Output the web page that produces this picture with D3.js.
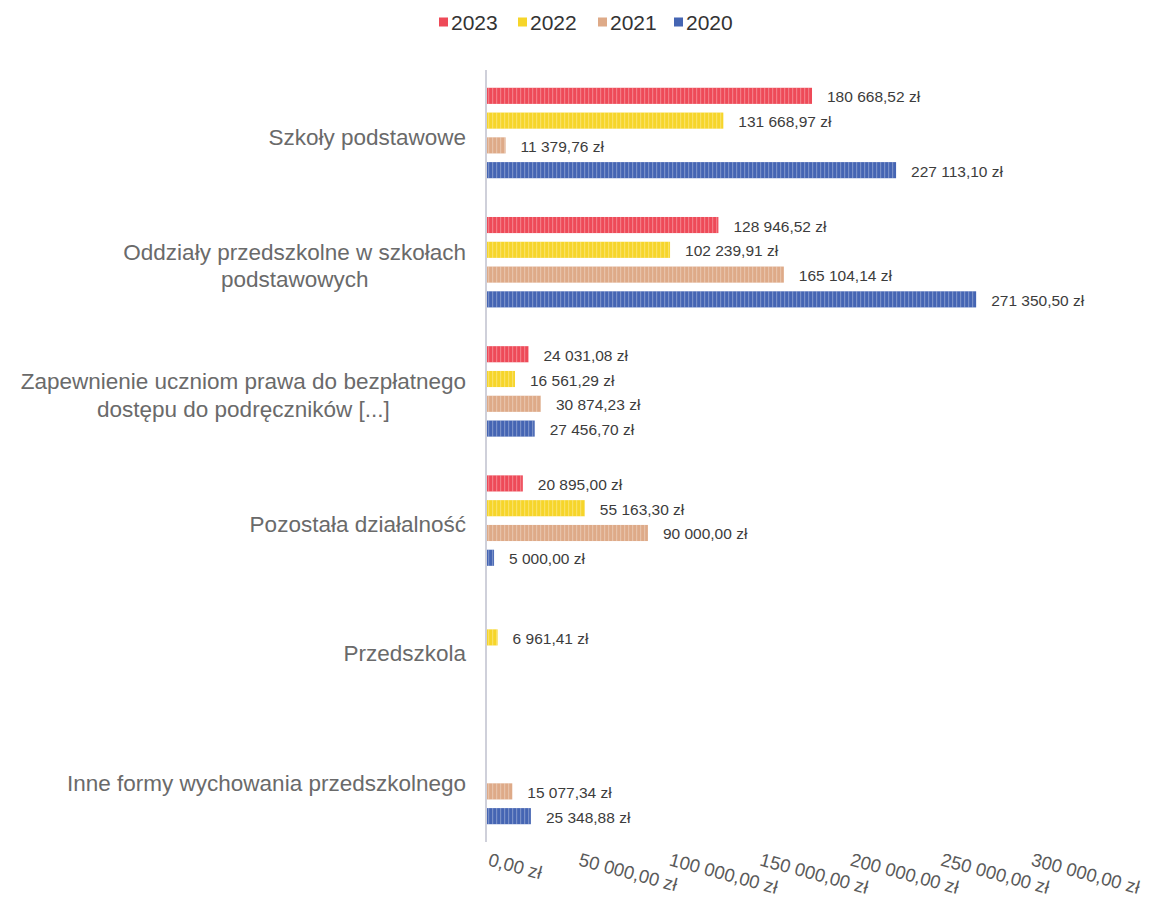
<!DOCTYPE html>
<html>
<head>
<meta charset="utf-8">
<script src="https://cdn.jsdelivr.net/npm/d3@7"></script>
<style>
  html, body { margin: 0; padding: 0; background: #ffffff; }
  svg { display: block; font-family: "Liberation Sans", Arial, sans-serif; }
</style>
</head>
<body>
<svg id="chart" width="1157" height="899"></svg>
<script>
// ---- Data ----
const categories = [
  ["Szkoły podstawowe"],
  ["Oddziały przedszkolne w szkołach", "podstawowych"],
  ["Zapewnienie uczniom prawa do bezpłatnego", "dostępu do podręczników [...]"],
  ["Pozostała działalność"],
  ["Przedszkola"],
  ["Inne formy wychowania przedszkolnego"]
];
const seriesNames = ["2023", "2022", "2021", "2020"];
const values2023 = [180668.52, 128946.52, 24031.08, 20895.00, null, null];
const values2022 = [131668.97, 102239.91, 16561.29, 55163.30, 6961.41, null];
const values2021 = [11379.76, 165104.14, 30874.23, 90000.00, null, 15077.34];
const values2020 = [227113.10, 271350.50, 27456.70, 5000.00, null, 25348.88];
const seriesValues = [values2023, values2022, values2021, values2020];
const xTicks = [0, 50000, 100000, 150000, 200000, 250000, 300000];
const colors = ["#ee4a58", "#f6d52a", "#deaa88", "#4565b3"];

// ---- Formatting (Polish currency) ----
function fmt(v) {
  const parts = v.toFixed(2).split(".");
  const intPart = parts[0].replace(/\B(?=(\d{3})+(?!\d))/g, " ");
  return intPart + "," + parts[1] + " zł";
}

const svg = d3.select("#chart");

// ---- Scales ----
const x = d3.scaleLinear().domain([0, 300000]).range([485, 1028]);
const y0 = d3.scaleBand()
  .domain(d3.range(categories.length))
  .range([68.4, 843.6])
  .paddingInner(0.30)
  .paddingOuter(0.15);
const y1 = d3.scaleBand()
  .domain(d3.range(seriesNames.length))
  .range([0, y0.bandwidth()])
  .paddingInner(0.35)
  .paddingOuter(0);

// ---- Legend ----
const legendX = [439, 518, 598, 674];
const legend = svg.append("g");
seriesNames.forEach((name, i) => {
  const g = legend.append("g").attr("transform", `translate(${legendX[i]},22)`);
  g.append("rect").attr("x", 0).attr("y", -4.5).attr("width", 9).attr("height", 9).attr("fill", colors[i]);
  g.append("text").attr("x", 12).attr("y", 0).attr("dominant-baseline", "central")
    .attr("font-size", 21).attr("fill", "#333").text(name);
});

// ---- Bars ----
const rows = [];
categories.forEach((c, ci) => {
  seriesValues.forEach((vals, si) => {
    if (vals[ci] !== null) rows.push({ ci, si, v: vals[ci] });
  });
});

const barG = svg.append("g");
barG.selectAll("rect").data(rows).join("rect")
  .attr("x", x(0))
  .attr("y", d => y0(d.ci) + y1(d.si))
  .attr("width", d => Math.max(0, x(d.v) - x(0)))
  .attr("height", y1.bandwidth())
  .attr("fill", d => colors[d.si]);

// subtle vertical striping like the reference scan
const defs = svg.append("defs");
const pat = defs.append("pattern").attr("id", "stripes").attr("patternUnits", "userSpaceOnUse")
  .attr("width", 4).attr("height", 4);
pat.append("rect").attr("x", 0).attr("y", 0).attr("width", 1.2).attr("height", 4)
  .attr("fill", "#ffffff").attr("opacity", 0.28);
barG.selectAll("rect.stripe").data(rows).join("rect").attr("class", "stripe")
  .attr("x", x(0))
  .attr("y", d => y0(d.ci) + y1(d.si))
  .attr("width", d => Math.max(0, x(d.v) - x(0)))
  .attr("height", y1.bandwidth())
  .attr("fill", "url(#stripes)")
  .attr("pointer-events", "none");

// ---- Data labels ----
svg.append("g").selectAll("text").data(rows).join("text")
  .attr("x", d => x(d.v) + 15)
  .attr("y", d => y0(d.ci) + y1(d.si) + y1.bandwidth() / 2 + 1)
  .attr("dominant-baseline", "central")
  .attr("font-size", 15.5)
  .attr("fill", "#3c3c3c")
  .text(d => fmt(d.v));

// ---- Axis line ----
svg.append("line")
  .attr("x1", x(0) + 1).attr("x2", x(0) + 1)
  .attr("y1", 70).attr("y2", 842)
  .attr("stroke", "#cfd0da").attr("stroke-width", 2);

// ---- Category labels ----
const catG = svg.append("g");
categories.forEach((lines, ci) => {
  const cy = y0(ci) + y0.bandwidth() / 2 + 4;
  const lh = 27.5;
  const g = catG.append("g");
  const texts = lines.map((ln, li) =>
    g.append("text")
      .attr("y", cy + (li - (lines.length - 1) / 2) * lh)
      .attr("dominant-baseline", "central")
      .attr("font-size", 22.5)
      .attr("fill", "#6a6a6a")
      .text(ln));
  const maxW = d3.max(texts, t => t.node().getComputedTextLength());
  const cx = 466 - maxW / 2;
  texts.forEach(t => t.attr("x", cx).attr("text-anchor", "middle"));
});

// ---- X tick labels (rotated) ----
svg.append("g").selectAll("text").data(xTicks).join("text")
  .attr("transform", d => `translate(${x(d) + 4},859) rotate(15)`)
  .attr("dominant-baseline", "central")
  .attr("font-size", 18.5)
  .attr("fill", "#5a5a5a")
  .text(d => fmt(d));
</script>
</body>
</html>
